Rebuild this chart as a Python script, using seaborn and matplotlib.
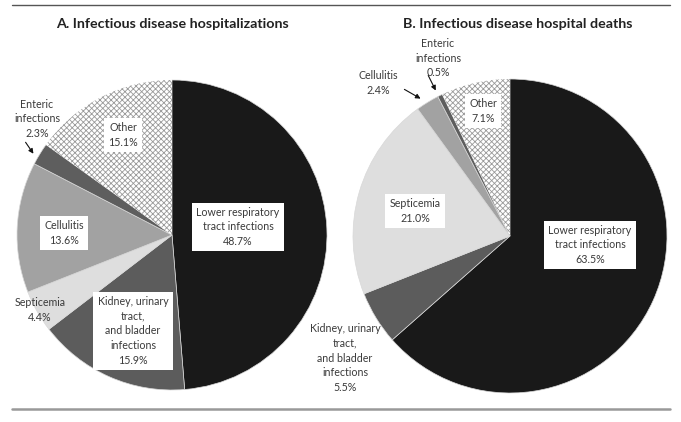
import matplotlib
matplotlib.use("Agg")
import matplotlib.pyplot as plt
import seaborn as sns

sns.set_style("white")
plt.rcParams['font.family'] = ['Lato', 'DejaVu Sans']
plt.rcParams['hatch.linewidth'] = 0.6

categories = ["Lower respiratory tract infections", "Kidney, urinary tract, and bladder infections",
              "Septicemia", "Cellulitis", "Enteric infections", "Other"]
hosp_values = [48.7, 15.9, 4.4, 13.6, 2.3, 15.1]
death_values = [63.5, 5.5, 21.0, 2.4, 0.5, 7.1]
colors = ["#191919", "#5c5c5c", "#dedede", "#a2a2a2", "#5e5e5e", "#ffffff"]

W, H = 681, 422
fig = plt.figure(figsize=(W / 100, H / 100), dpi=100)
ax = fig.add_axes([0, 0, 1, 1])

def Y(y):
    return H - y

def draw_pie(values, cx, cy, r):
    wedges, _ = ax.pie(values, colors=colors, startangle=90, counterclock=False,
                       center=(cx, Y(cy)), radius=r, frame=True,
                       wedgeprops=dict(edgecolor="#d8d8d8", linewidth=0.5))
    other = wedges[-1]
    other.set_hatch("xxxxxx")
    other.set_edgecolor("#9a9a9a")
    other.set_linewidth(0)
    return wedges

draw_pie(hosp_values, 172, 235, 155)
draw_pie(death_values, 510, 236, 157)
ax.set_xlim(0, W)
ax.set_ylim(0, H)
ax.set_aspect("auto")
ax.axis("off")

# rules
ax.plot([12, 670], [Y(5), Y(5)], color="#555555", lw=1)
ax.plot([12, 670], [Y(409), Y(409)], color="#999999", lw=1.8)

ax.text(172, Y(24), "A. Infectious disease hospitalizations", ha="center", va="center",
        fontsize=10.3, fontweight="bold", color="#222222")
ax.text(518, Y(24), "B. Infectious disease hospital deaths", ha="center", va="center",
        fontsize=10.3, fontweight="bold", color="#222222")

fs = 7.7
tc = "#3a3a3a"
box = dict(boxstyle="square,pad=0.4", fc="white", ec="none")

def label(x, y, s, boxed=False):
    ax.text(x, Y(y), s, ha="center", va="center", fontsize=fs, color=tc,
            linespacing=1.4, bbox=box if boxed else None)

# Panel A
label(238, 227, f"Lower respiratory\ntract infections\n{hosp_values[0]}%", True)
label(133, 331, f"Kidney, urinary\ntract,\nand bladder\ninfections\n{hosp_values[1]}%", True)
label(40, 310, f"Septicemia\n{hosp_values[2]}%")
label(64, 233, f"Cellulitis\n{hosp_values[3]}%", True)
label(37, 119, f"Enteric\ninfections\n{hosp_values[4]}%")
label(123, 135, f"Other\n{hosp_values[5]}%", True)
ax.annotate("", xy=(35, Y(156)), xytext=(24, Y(140)),
            arrowprops=dict(arrowstyle="-|>", color="#111111", lw=0.8, mutation_scale=7))

# Panel B
label(590, 245, f"Lower respiratory\ntract infections\n{death_values[0]}%", True)
label(345, 358, f"Kidney, urinary\ntract,\nand bladder\ninfections\n{death_values[1]}%")
label(415, 211, f"Septicemia\n{death_values[2]}%", True)
label(378, 83, f"Cellulitis\n{death_values[3]}%")
label(438, 58, f"Enteric\ninfections\n{death_values[4]}%")
label(483, 111, f"Other\n{death_values[5]}%", True)
ax.annotate("", xy=(423, Y(100)), xytext=(402, Y(88)),
            arrowprops=dict(arrowstyle="-|>", color="#111111", lw=0.8, mutation_scale=7))
ax.annotate("", xy=(437, Y(93)), xytext=(427, Y(73)),
            arrowprops=dict(arrowstyle="-|>", color="#111111", lw=0.8, mutation_scale=7))

fig.savefig("out.png", dpi=100)
